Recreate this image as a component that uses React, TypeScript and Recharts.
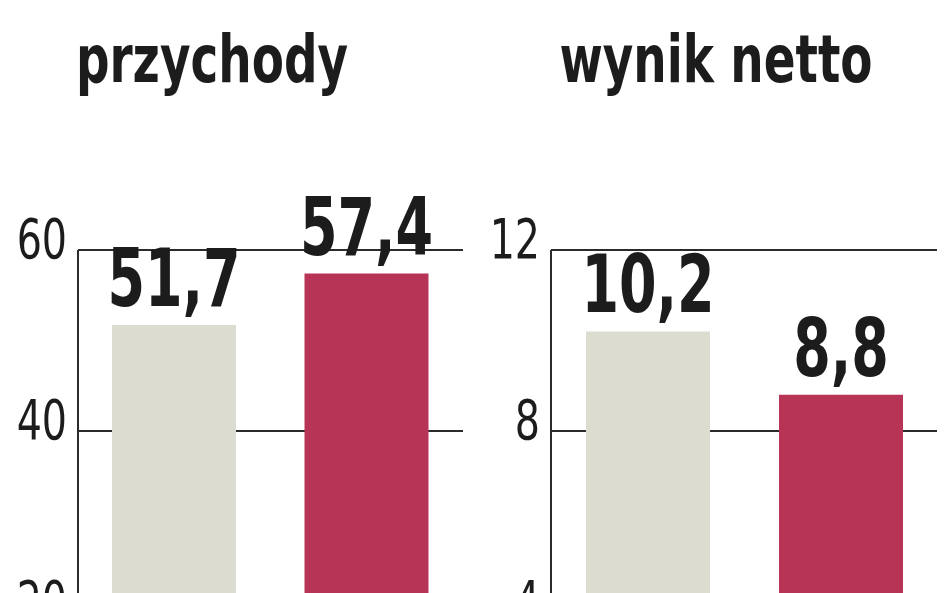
import { Bar, BarChart, CartesianGrid, Cell, LabelList, XAxis, YAxis } from 'recharts';

// Two periods compared in both panels (the period names are not printed on the chart).
const PERIODS = ['poprzedni okres', 'bieżący okres'];
const REVENUE = [51.7, 57.4];
const NET_PROFIT = [10.2, 8.8];
const REVENUE_TICKS = [0, 20, 40, 60];
const PROFIT_TICKS = [0, 4, 8, 12];
const BAR_COLORS = ['#dcdcd1', '#b83456'];

const FONT = '"DejaVu Sans Condensed", "DejaVu Sans", sans-serif';
const INK = '#1c1c1c';
const LINE = '#2b2b2b';

// The original uses a very narrow face; squeeze the condensed font horizontally.
const VALUE_SQUEEZE = 0.75;
const TICK_SQUEEZE = 0.8;
const TITLE_SQUEEZE = 0.79;
const LABEL_GAP = 19;

// Plot area runs past the bottom of the picture, like the cropped original.
const CHART_HEIGHT = 800;

type Row = { period: string; value: number };

function AxisTick({ x, y, payload }: { x?: number; y?: number; payload?: { value: number } }) {
  return (
    <text
      transform={`translate(${x}, ${(y ?? 0) + 8}) scale(${TICK_SQUEEZE}, 1)`}
      textAnchor="end"
      fontSize={55}
      fontFamily={FONT}
      fill={INK}
    >
      {payload?.value}
    </text>
  );
}

function ValueLabel(props: any) {
  const { x, y, width, value } = props;
  const cx = Number(x) + Number(width) / 2;
  return (
    <text
      transform={`translate(${cx}, ${Number(y) - LABEL_GAP}) scale(${VALUE_SQUEEZE}, 1)`}
      textAnchor="middle"
      fontSize={80}
      fontWeight={700}
      fontFamily={FONT}
      fill={INK}
    >
      {String(value).replace('.', ',')}
    </text>
  );
}

function Panel({
  title,
  values,
  ticks,
  left,
  width,
  rightMargin,
  titleCenter,
}: {
  title: string;
  values: number[];
  ticks: number[];
  left: number;
  width: number;
  rightMargin: number;
  titleCenter: number;
}) {
  const rows: Row[] = PERIODS.map((period, i) => ({ period, value: values[i] }));
  return (
    <div style={{ position: 'absolute', left, top: 0, width, height: CHART_HEIGHT }}>
      <div style={{ ...styles.title, left: titleCenter - 250 }}>{title}</div>
      <BarChart
        width={width}
        height={CHART_HEIGHT}
        data={rows}
        margin={{ top: 250, right: rightMargin, bottom: 7, left: 0 }}
      >
        <CartesianGrid vertical={false} stroke={LINE} strokeWidth={2} />
        <XAxis dataKey="period" hide />
        <YAxis
          domain={[0, ticks[ticks.length - 1]]}
          ticks={ticks}
          interval={0}
          width={78}
          axisLine={{ stroke: LINE, strokeWidth: 2 }}
          tickLine={false}
          tickSize={0}
          tickMargin={11}
          tick={<AxisTick />}
        />
        <Bar dataKey="value" barSize={124} isAnimationActive={false}>
          {rows.map((row, i) => (
            <Cell key={row.period} fill={BAR_COLORS[i]} />
          ))}
          <LabelList dataKey="value" content={ValueLabel} />
        </Bar>
      </BarChart>
    </div>
  );
}

export default function App() {
  return (
    <div style={styles.page}>
      <Panel
        title="przychody"
        values={REVENUE}
        ticks={REVENUE_TICKS}
        left={0}
        width={470}
        rightMargin={7}
        titleCenter={212}
      />
      <Panel
        title="wynik netto"
        values={NET_PROFIT}
        ticks={PROFIT_TICKS}
        left={473}
        width={475}
        rightMargin={11}
        titleCenter={243}
      />
    </div>
  );
}

const styles: Record<string, React.CSSProperties> = {
  page: {
    position: 'fixed',
    top: 0,
    left: 0,
    width: 948,
    height: 593,
    overflow: 'hidden',
    background: '#ffffff',
  },
  title: {
    position: 'absolute',
    top: 27,
    width: 500,
    textAlign: 'center',
    fontFamily: FONT,
    fontWeight: 700,
    fontSize: 66,
    lineHeight: 1,
    color: INK,
    whiteSpace: 'nowrap',
    transform: `scaleX(${TITLE_SQUEEZE})`,
    transformOrigin: 'center',
  },
};
